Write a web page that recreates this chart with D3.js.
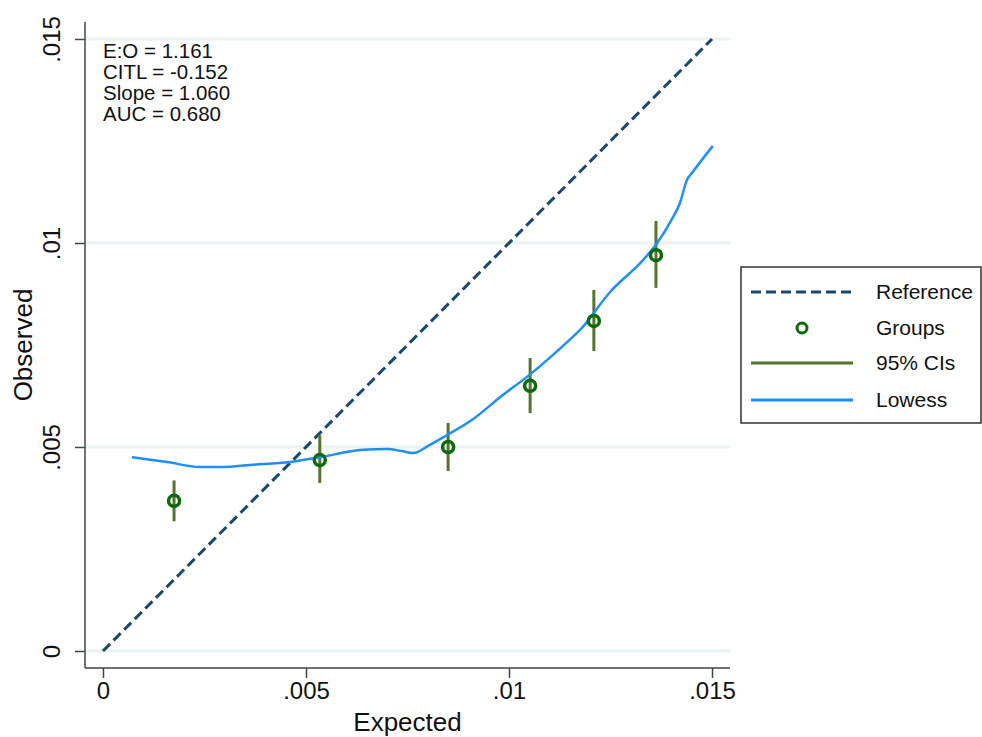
<!DOCTYPE html>
<html>
<head>
<meta charset="utf-8">
<script src="https://cdn.jsdelivr.net/npm/d3@7"></script>
<style>
  body { margin: 0; background: #fff; }
  svg { font-family: "Liberation Sans", Arial, sans-serif; }
</style>
</head>
<body>
<svg id="chart" width="982" height="737"></svg>
<script>
// calibration plot: expected vs observed
const tickValues = [0, 0.005, 0.01, 0.015];
const tickLabels = ["0", ".005", ".01", ".015"];

const groupExpected = [0.00175, 0.00534, 0.0085, 0.01052, 0.01209, 0.01362];
const groupObserved = [0.00368, 0.00468, 0.0050, 0.0065, 0.00809, 0.0097];
const ciLower = [0.00318, 0.00412, 0.00441, 0.00583, 0.00735, 0.0089];
const ciUpper = [0.00418, 0.00529, 0.00559, 0.00718, 0.00885, 0.01054];

const lowessX = [0.00071, 0.00158, 0.00239, 0.00296, 0.00362, 0.00461, 0.00534, 0.0064,
  0.0070, 0.00736, 0.00764, 0.00805, 0.00847, 0.00911, 0.00978, 0.01052, 0.01143,
  0.01175, 0.01249, 0.0133, 0.01365, 0.01397, 0.01421, 0.01438, 0.01451, 0.01502];
const lowessY = [0.00475, 0.00463, 0.00451, 0.00451, 0.00456, 0.00463, 0.00475, 0.00493,
  0.00495, 0.0049, 0.00485, 0.00505, 0.00529, 0.00568, 0.00622, 0.00678, 0.00757,
  0.00787, 0.0088, 0.00958, 0.01, 0.01051, 0.01098, 0.01154, 0.01172, 0.01238];

const referenceLine = [0, 0.015];

const stats = ["E:O = 1.161", "CITL = -0.152", "Slope = 1.060", "AUC = 0.680"];
const legendLabels = ["Reference", "Groups", "95% CIs", "Lowess"];

const colors = {
  ref: "#1a476f",
  group: "#0b6b0b",
  ci: "#55752f",
  lowess: "#1e8fff",
  grid: "#eaf2f3",
  axis: "#444"
};

const svg = d3.select("#chart");
const plot = { left: 85, right: 730, top: 22, bottom: 668 };

const x = d3.scaleLinear().domain([0, 0.015]).range([103, 712]);
const y = d3.scaleLinear().domain([0, 0.015]).range([651, 39]);

// grid lines
svg.append("g")
  .selectAll("line")
  .data(tickValues)
  .enter()
  .append("line")
  .attr("x1", plot.left)
  .attr("x2", plot.right)
  .attr("y1", d => y(d))
  .attr("y2", d => y(d))
  .attr("stroke", colors.grid)
  .attr("stroke-width", 3);

// axes
const yAxis = svg.append("g")
  .attr("transform", "translate(" + plot.left + ",0)")
  .call(d3.axisLeft(y).tickValues(tickValues).tickSize(10)
    .tickFormat((d, i) => tickLabels[i]));
yAxis.select(".domain").remove();
yAxis.selectAll(".tick line").attr("stroke", colors.axis).attr("stroke-width", 1.5);
yAxis.selectAll(".tick text")
  .attr("transform", "rotate(-90)")
  .attr("x", 0)
  .attr("y", -25)
  .attr("dy", null)
  .attr("text-anchor", "middle")
  .attr("font-size", 24)
  .attr("font-family", "Liberation Sans, Arial, sans-serif")
  .attr("fill", "#111");

const xAxis = svg.append("g")
  .attr("transform", "translate(0," + plot.bottom + ")")
  .call(d3.axisBottom(x).tickValues(tickValues).tickSize(10)
    .tickFormat((d, i) => tickLabels[i]));
xAxis.select(".domain").remove();
xAxis.selectAll(".tick line").attr("stroke", colors.axis).attr("stroke-width", 1.5);
xAxis.selectAll(".tick text")
  .attr("y", 14)
  .attr("font-size", 24)
  .attr("font-family", "Liberation Sans, Arial, sans-serif")
  .attr("fill", "#111");

svg.append("line")
  .attr("x1", plot.left).attr("x2", plot.left)
  .attr("y1", plot.top).attr("y2", plot.bottom)
  .attr("stroke", colors.axis).attr("stroke-width", 1.5);
svg.append("line")
  .attr("x1", plot.left).attr("x2", plot.right)
  .attr("y1", plot.bottom).attr("y2", plot.bottom)
  .attr("stroke", colors.axis).attr("stroke-width", 1.5);

// axis titles
svg.append("text")
  .attr("x", (plot.left + plot.right) / 2)
  .attr("y", 731)
  .attr("text-anchor", "middle")
  .attr("font-size", 26)
  .attr("fill", "#111")
  .text("Expected");

svg.append("text")
  .attr("transform", "translate(32," + (plot.top + plot.bottom) / 2 + ") rotate(-90)")
  .attr("text-anchor", "middle")
  .attr("font-size", 26)
  .attr("fill", "#111")
  .text("Observed");

// reference line
svg.append("line")
  .attr("x1", x(referenceLine[0])).attr("y1", y(referenceLine[0]))
  .attr("x2", x(referenceLine[1])).attr("y2", y(referenceLine[1]))
  .attr("stroke", colors.ref)
  .attr("stroke-width", 3)
  .attr("stroke-dasharray", "10,5");

// CIs
svg.append("g")
  .selectAll("line")
  .data(groupExpected)
  .enter()
  .append("line")
  .attr("x1", d => x(d))
  .attr("x2", d => x(d))
  .attr("y1", (d, i) => y(ciLower[i]))
  .attr("y2", (d, i) => y(ciUpper[i]))
  .attr("stroke", colors.ci)
  .attr("stroke-width", 3);

// lowess
const lowess = d3.line()
  .x(d => x(d[0]))
  .y(d => y(d[1]))
  .curve(d3.curveMonotoneX);
svg.append("path")
  .datum(lowessX.map((v, i) => [v, lowessY[i]]))
  .attr("d", lowess)
  .attr("fill", "none")
  .attr("stroke", colors.lowess)
  .attr("stroke-width", 2.5);

// groups
svg.append("g")
  .selectAll("circle")
  .data(groupExpected)
  .enter()
  .append("circle")
  .attr("cx", d => x(d))
  .attr("cy", (d, i) => y(groupObserved[i]))
  .attr("r", 5.5)
  .attr("fill", "none")
  .attr("stroke", colors.group)
  .attr("stroke-width", 3.5);

// stats text
svg.append("g")
  .selectAll("text")
  .data(stats)
  .enter()
  .append("text")
  .attr("x", 103)
  .attr("y", (d, i) => 58 + i * 21)
  .attr("font-size", 20.5)
  .attr("fill", "#111")
  .text(d => d);

// legend
const lg = svg.append("g");
lg.append("rect")
  .attr("x", 741).attr("y", 267)
  .attr("width", 240).attr("height", 156)
  .attr("fill", "#fff")
  .attr("stroke", "#333")
  .attr("stroke-width", 1.5);

const rowY = [292, 328, 363, 400];
lg.selectAll("text")
  .data(legendLabels)
  .enter()
  .append("text")
  .attr("x", 876)
  .attr("y", (d, i) => rowY[i])
  .attr("dy", "0.35em")
  .attr("font-size", 21)
  .attr("fill", "#111")
  .text(d => d);

lg.append("line")
  .attr("x1", 751).attr("x2", 853)
  .attr("y1", rowY[0]).attr("y2", rowY[0])
  .attr("stroke", colors.ref).attr("stroke-width", 3)
  .attr("stroke-dasharray", "10,5");
lg.append("circle")
  .attr("cx", 802).attr("cy", rowY[1]).attr("r", 5)
  .attr("fill", "none").attr("stroke", colors.group).attr("stroke-width", 3);
lg.append("line")
  .attr("x1", 751).attr("x2", 853)
  .attr("y1", rowY[2]).attr("y2", rowY[2])
  .attr("stroke", colors.ci).attr("stroke-width", 3);
lg.append("line")
  .attr("x1", 751).attr("x2", 853)
  .attr("y1", rowY[3]).attr("y2", rowY[3])
  .attr("stroke", colors.lowess).attr("stroke-width", 3);
</script>
</body>
</html>
